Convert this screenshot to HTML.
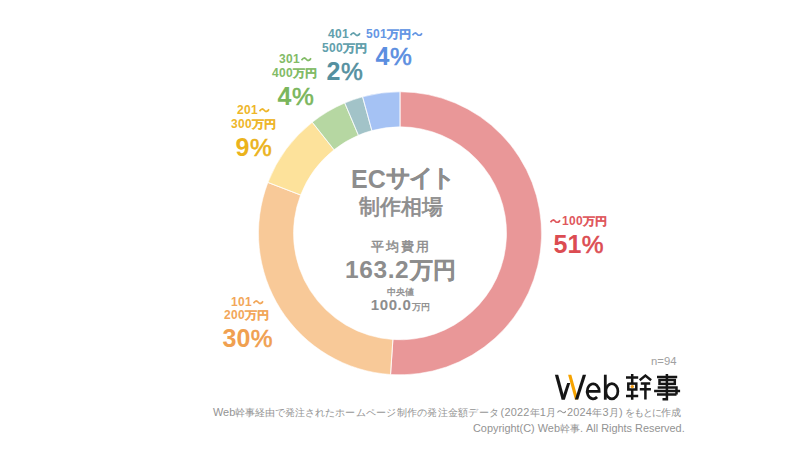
<!DOCTYPE html>
<html><head><meta charset="utf-8">
<style>
html,body{margin:0;padding:0;background:#fff;}
body{width:800px;height:450px;position:relative;overflow:hidden;font-family:"Liberation Sans",sans-serif;}
.t{position:absolute;white-space:nowrap;font-weight:bold;line-height:1;}
.lab{font-size:12px;letter-spacing:0.3px;}
.lab .j{display:inline-block;font-size:11.8px;letter-spacing:0.2px;-webkit-text-stroke:0.2px currentColor;transform:scaleY(0.9);transform-origin:50% 88%;}
.pct{font-size:25px;}
.pct .p{font-size:24.5px;font-weight:normal;-webkit-text-stroke:0.6px currentColor;margin-left:0.4px;}
.c{color:#8d8d8d;}
.c .j{-webkit-text-stroke:0.25px currentColor;}
.f{position:absolute;white-space:nowrap;font-size:10.9px;line-height:1;color:#939393;}
.f .j{font-size:9.9px;}
.wv{display:inline-block;}
</style></head><body>
<svg width="800" height="450" style="position:absolute;left:0;top:0">
<g stroke="#fff" stroke-width="0.7" stroke-opacity="0.8">
<path fill="#e99798" d="M400.00,91.80 A141.5 141.5 0 1 1 390.55,374.48 L392.89,339.56 A106.5 106.5 0 1 0 400.00,126.80Z"/>
<path fill="#f8c998" d="M390.55,374.48 A141.5 141.5 0 0 1 267.95,182.44 L300.62,195.02 A106.5 106.5 0 0 0 392.89,339.56Z"/>
<path fill="#fde29b" d="M267.95,182.44 A141.5 141.5 0 0 1 312.31,122.25 L334.00,149.72 A106.5 106.5 0 0 0 300.62,195.02Z"/>
<path fill="#b6d7a2" d="M312.31,122.25 A141.5 141.5 0 0 1 344.76,103.03 L358.42,135.25 A106.5 106.5 0 0 0 334.00,149.72Z"/>
<path fill="#a2c3c8" d="M344.76,103.03 A141.5 141.5 0 0 1 362.62,96.83 L371.86,130.58 A106.5 106.5 0 0 0 358.42,135.25Z"/>
<path fill="#a5c2f4" d="M362.62,96.83 A141.5 141.5 0 0 1 400.00,91.80 L400.00,126.80 A106.5 106.5 0 0 0 371.86,130.58Z"/>
<line x1="400.00" y1="127.80" x2="400.00" y2="90.80"/>
<line x1="392.95" y1="338.56" x2="390.48" y2="375.48"/>
<line x1="301.55" y1="195.38" x2="267.02" y2="182.08"/>
<line x1="334.62" y1="150.50" x2="311.69" y2="121.47"/>
<line x1="358.81" y1="136.17" x2="344.37" y2="102.11"/>
<line x1="372.13" y1="131.55" x2="362.35" y2="95.86"/>
</g>
<g fill="none" stroke="#151515" stroke-width="2.5">
<polygon fill="#151515" stroke="none" points="554.9,374.7 558.2,374.7 564.9,399.4 561.6,399.4"/>
<polygon fill="#151515" stroke="none" points="561.6,399.4 564.9,399.4 570.2,383 567.2,383"/>
<polygon fill="#f6a300" stroke="none" points="568.1,374.7 571.3,374.7 578.2,399.4 574.9,399.4"/>
<polygon fill="#151515" stroke="none" points="574.9,399.4 578.2,399.4 586.1,374.7 582.8,374.7"/>
<path stroke-width="2.7" d="M587.2,391.3 H599.2 A6 7.5 0 1 0 597.06,397.05"/>
<path stroke-width="2.8" d="M605.3,374.7 V399.7"/>
<ellipse stroke-width="2.7" cx="611.9" cy="391.3" rx="6" ry="7.6"/>
<path d="M632.2,374 V383.6 M626,377.5 H638.2 M626,396 H638.2 M632.2,389.5 V399.8 M639.7,380.2 L645.4,375.6 L651.1,380.2 M640.8,383.5 H650.2 M639.8,389.3 H650.9 M645.4,383.5 V399.5"/>
<rect x="628.3" y="383.6" width="8" height="5.9"/>
<circle cx="632.3" cy="386.6" r="1.7" fill="#f39c12" stroke="none"/>
<path d="M666.9,374 V399.2 H662.5 M657,377 H677.2 M657.7,387.4 H676.5 V394.5 M654.1,391 H680.1 M657,394.5 H676.5"/>
<rect x="659.5" y="380" width="15.3" height="3.9"/>
</g>
</svg>
<div class="t lab" style="left:328px;top:28px;color:#62a0ac">401<svg class="wv" width="10.5" height="4.5" viewBox="0 0 10 4" preserveAspectRatio="none" style="vertical-align:1.5px;margin-left:1.3px;margin-right:0px"><path d="M0.5,2.9 C2.1,0.3 3.7,0.5 5,2 C6.3,3.5 7.9,3.7 9.5,1.1" fill="none" stroke="#62a0ac" stroke-width="1.6"/></svg></div>
<div class="t lab" style="left:322px;top:42px;color:#62a0ac">500<span class="j">万円</span></div>
<div class="t pct" style="left:326.6px;top:59px;color:#5590a0">2<span class="p">%</span></div>
<div class="t lab" style="left:366px;top:27.5px;color:#6596e4">501<span class="j">万円</span><svg class="wv" width="10.5" height="4.5" viewBox="0 0 10 4" preserveAspectRatio="none" style="vertical-align:1.5px;margin-left:1px;margin-right:0px"><path d="M0.5,2.9 C2.1,0.3 3.7,0.5 5,2 C6.3,3.5 7.9,3.7 9.5,1.1" fill="none" stroke="#6596e4" stroke-width="1.6"/></svg></div>
<div class="t pct" style="left:375.6px;top:44px;color:#5b8ee0">4<span class="p">%</span></div>
<div class="t lab" style="left:279px;top:53px;color:#82bb66">301<svg class="wv" width="10.5" height="4.5" viewBox="0 0 10 4" preserveAspectRatio="none" style="vertical-align:1.5px;margin-left:1.3px;margin-right:0px"><path d="M0.5,2.9 C2.1,0.3 3.7,0.5 5,2 C6.3,3.5 7.9,3.7 9.5,1.1" fill="none" stroke="#82bb66" stroke-width="1.6"/></svg></div>
<div class="t lab" style="left:272px;top:67px;color:#82bb66">400<span class="j">万円</span></div>
<div class="t pct" style="left:277.6px;top:84px;color:#7ab65c">4<span class="p">%</span></div>
<div class="t lab" style="left:237px;top:104px;color:#eeb62a">201<svg class="wv" width="10.5" height="4.5" viewBox="0 0 10 4" preserveAspectRatio="none" style="vertical-align:1.5px;margin-left:1.3px;margin-right:0px"><path d="M0.5,2.9 C2.1,0.3 3.7,0.5 5,2 C6.3,3.5 7.9,3.7 9.5,1.1" fill="none" stroke="#eeb62a" stroke-width="1.6"/></svg></div>
<div class="t lab" style="left:231px;top:118px;color:#eeb62a">300<span class="j">万円</span></div>
<div class="t pct" style="left:235.6px;top:135px;color:#ebb31c">9<span class="p">%</span></div>
<div class="t lab" style="left:231px;top:296px;color:#f2a75a">101<svg class="wv" width="10.5" height="4.5" viewBox="0 0 10 4" preserveAspectRatio="none" style="vertical-align:1.5px;margin-left:1.3px;margin-right:0px"><path d="M0.5,2.9 C2.1,0.3 3.7,0.5 5,2 C6.3,3.5 7.9,3.7 9.5,1.1" fill="none" stroke="#f2a75a" stroke-width="1.6"/></svg></div>
<div class="t lab" style="left:224px;top:309px;color:#f2a75a">200<span class="j">万円</span></div>
<div class="t pct" style="left:222.6px;top:325.5px;color:#f0a050">30<span class="p">%</span></div>
<div class="t lab" style="left:550px;top:214.5px;color:#df585d"><svg class="wv" width="10.5" height="4.5" viewBox="0 0 10 4" preserveAspectRatio="none" style="vertical-align:1.5px;margin-left:0px;margin-right:1.5px"><path d="M0.5,2.9 C2.1,0.3 3.7,0.5 5,2 C6.3,3.5 7.9,3.7 9.5,1.1" fill="none" stroke="#df585d" stroke-width="1.6"/></svg>100<span class="j">万円</span></div>
<div class="t pct" style="left:553.6px;top:232px;color:#dc4c52">51<span class="p">%</span></div>
<div class="t c" style="left:351px;top:167px;font-size:25px">EC<span class="j" style="font-size:23.5px;letter-spacing:-2.2px;display:inline-block;transform:translateY(-2px)">サイト</span></div>
<div class="t c" style="left:358.5px;top:195.5px;font-size:21px"><span class="j" style="font-weight:normal;-webkit-text-stroke:0.7px currentColor">制作相場</span></div>
<div class="t c" style="left:370.5px;top:240px;font-size:13.2px"><span class="j" style="font-weight:normal;-webkit-text-stroke:0.45px currentColor;letter-spacing:2px">平均費用</span></div>
<div class="t c" style="left:345px;top:258px;font-size:24.5px"><span style="letter-spacing:0.6px">163.2</span><span class="j" style="font-size:22.5px;letter-spacing:0.5px;margin-left:0.5px">万円</span></div>
<div class="t c" style="left:387px;top:288px;font-size:8.8px"><span class="j" style="font-weight:normal;-webkit-text-stroke:0.35px currentColor">中央値</span></div>
<div class="t c" style="left:370.8px;top:296.8px;font-size:15px"><span style="letter-spacing:0.6px">100.0</span><span class="j" style="font-size:9.3px;margin-left:0.8px;letter-spacing:0.3px;font-weight:normal;-webkit-text-stroke:0.35px currentColor">万円</span></div>
<div class="f" style="left:651px;top:356px;font-size:11.3px;color:#a0a0a0">n=94</div>
<div class="f" id="f1" style="left:213px;top:407.3px;">Web<span class="j">幹事経由で発注された</span></div>
<div class="f" id="f1b" style="left:335.2px;top:407.3px;"><span class="j" style="letter-spacing:0.25px">ホームページ制作の発注金額データ</span></div>
<div class="f" id="f1c" style="left:500.5px;top:407.3px;letter-spacing:0.25px">(2022<span class="j">年</span>1<span class="j">月</span><svg class="wv" width="9.5" height="3.6" viewBox="0 0 10 4" preserveAspectRatio="none" style="vertical-align:2.5px;margin:0 0.6px 0 0.4px"><path d="M0.5,2.9 C2.1,0.3 3.7,0.5 5,2 C6.3,3.5 7.9,3.7 9.5,1.1" fill="none" stroke="#939393" stroke-width="1.1"/></svg>2024<span class="j">年</span>3<span class="j">月</span>)</div>
<div class="f" id="f1d" style="left:624.5px;top:407.3px;"><span class="j" style="letter-spacing:-0.8px">をもとに作成</span></div>
<div class="f" id="f2" style="left:473px;top:423.3px;">Copyright(C) Web<span class="j">幹事</span>. All Rights Reserved.</div>
</body></html>
